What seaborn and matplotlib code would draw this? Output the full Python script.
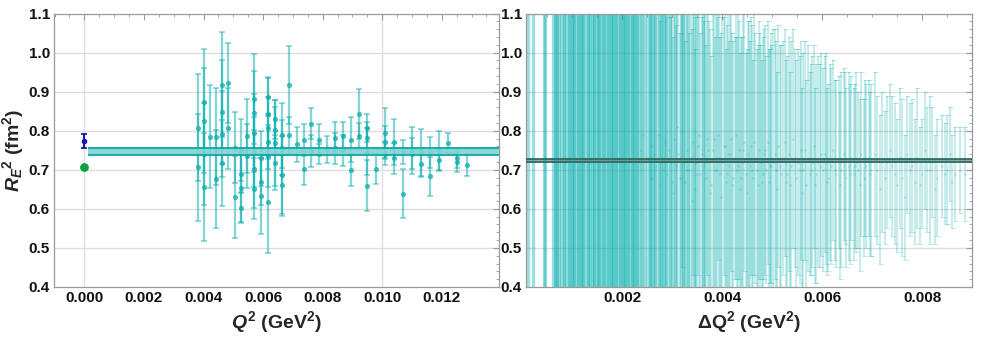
import matplotlib
matplotlib.use("Agg")
import matplotlib.pyplot as plt
from matplotlib.ticker import MultipleLocator, FormatStrFormatter
import numpy as np
import pandas as pd
import seaborn as sns

# --- data: left panel, R_E^2 vs Q^2 ---
q2 = [0.00383, 0.00383,
      0.00401, 0.00401, 0.00401, 0.00401,
      0.00422,
      0.00442, 0.00442,
      0.00462, 0.00462, 0.00462, 0.00462,
      0.00482, 0.00482,
      0.00504, 0.00504,
      0.00525, 0.00525, 0.00525, 0.00525,
      0.00546, 0.00546,
      0.00569, 0.00569, 0.00569, 0.00569, 0.00569, 0.00569,
      0.00592, 0.00592, 0.00592,
      0.00616, 0.00616, 0.00616, 0.00616, 0.00616, 0.00616,
      0.00640, 0.00640, 0.00640, 0.00640,
      0.00664, 0.00664, 0.00664, 0.00664,
      0.00688, 0.00688,
      0.00713,
      0.00736, 0.00736,
      0.00762, 0.00762,
      0.00788, 0.00788,
      0.00814,
      0.00840, 0.00840,
      0.00867, 0.00867,
      0.00894, 0.00894,
      0.00922, 0.00922,
      0.00950, 0.00950, 0.00950, 0.00950,
      0.00979,
      0.01008, 0.01008, 0.01008,
      0.01039, 0.01039,
      0.01069, 0.01069,
      0.01100, 0.01100,
      0.01129, 0.01129,
      0.01159, 0.01159,
      0.01190, 0.01190,
      0.01221,
      0.01252, 0.01252,
      0.01284]
re2 = [0.808, 0.706,
       0.874, 0.826, 0.740, 0.656,
       0.785,
       0.785, 0.676,
       0.918, 0.847, 0.791, 0.718,
       0.922, 0.806,
       0.757, 0.631,
       0.750, 0.690, 0.654, 0.603,
       0.786, 0.735,
       0.881, 0.846, 0.794, 0.746, 0.703, 0.652,
       0.729, 0.669, 0.633,
       0.887, 0.844, 0.807, 0.772, 0.735, 0.618,
       0.829, 0.801, 0.769, 0.718,
       0.788, 0.757, 0.686, 0.660,
       0.917, 0.788,
       0.765,
       0.776, 0.703,
       0.818, 0.748,
       0.777, 0.741,
       0.752,
       0.782, 0.755,
       0.786, 0.750,
       0.777, 0.699,
       0.844, 0.786,
       0.807, 0.782, 0.746, 0.659,
       0.703,
       0.793, 0.771, 0.741,
       0.771, 0.729,
       0.746, 0.639,
       0.750, 0.741,
       0.745, 0.716,
       0.745, 0.684,
       0.748, 0.724,
       0.769,
       0.729, 0.720,
       0.712]
re2_err = [0.137, 0.137,
           0.135, 0.134, 0.130, 0.137,
           0.131,
           0.125, 0.125,
           0.135, 0.133, 0.110, 0.110,
           0.103, 0.103,
           0.090, 0.105,
           0.079, 0.050, 0.088, 0.040,
           0.094, 0.081,
           0.115, 0.106, 0.100, 0.090, 0.100, 0.077,
           0.070, 0.060, 0.098,
           0.050, 0.090, 0.080, 0.070, 0.080, 0.130,
           0.050, 0.060, 0.110, 0.070,
           0.083, 0.070, 0.100, 0.078,
           0.099, 0.047,
           0.044,
           0.041, 0.043,
           0.040, 0.040,
           0.040, 0.025,
           0.035,
           0.040, 0.040,
           0.037, 0.040,
           0.058, 0.040,
           0.064, 0.035,
           0.035, 0.040, 0.060, 0.065,
           0.040,
           0.065, 0.040, 0.030,
           0.060, 0.040,
           0.030, 0.062,
           0.060, 0.040,
           0.060, 0.035,
           0.040, 0.050,
           0.050, 0.025,
           0.025,
           0.025, 0.025,
           0.029]

fit_left = (0.737, 0.756)
ref_blue = (0.773, 0.0185)
ref_green = 0.708

# --- data: right panel, R_E^2 vs Delta Q^2 (dq values in 1e-3 GeV^2) ---
dq2 = [0.12, 0.21, 0.44, 0.46, 0.62, 0.65, 0.68, 0.70, 0.73, 0.78,
       0.83, 0.84, 0.89, 0.93, 0.95, 0.99, 1.02, 1.04, 1.08, 1.11,
       1.13, 1.17, 1.20, 1.22, 1.26, 1.31, 1.32, 1.35, 1.40, 1.43,
       1.44, 1.49, 1.52, 1.53, 1.58, 1.61, 1.64, 1.67, 1.71, 1.73,
       1.77, 1.80, 1.82, 1.86, 1.88, 1.91, 1.95, 1.97, 2.01, 2.03,
       2.06, 2.10, 2.12, 2.15, 2.19, 2.21, 2.24, 2.28, 2.30, 2.33,
       2.37, 2.40, 2.42, 2.46, 2.49,
       2.53, 2.57, 2.60, 2.64, 2.68, 2.71, 2.75, 2.79, 2.82, 2.86,
       2.90, 2.93, 2.97, 3.01, 3.04, 3.08, 3.12, 3.15, 3.19, 3.23,
       3.26, 3.30, 3.34, 3.37, 3.41, 3.45, 3.48, 3.52, 3.56, 3.59,
       3.63, 3.67, 3.70, 3.74, 3.78, 3.81, 3.85, 3.89, 3.92, 3.96,
       4.00, 4.03, 4.07, 4.11, 4.14, 4.18, 4.22, 4.25, 4.29, 4.33,
       4.36, 4.40, 4.44, 4.47, 4.51, 4.55, 4.58, 4.62, 4.66, 4.69,
       4.73, 4.77, 4.80, 4.84, 4.88, 4.91, 4.95, 4.98,
       5.02, 5.08, 5.12, 5.18, 5.22, 5.28, 5.33, 5.38, 5.42, 5.48,
       5.52, 5.58, 5.62, 5.68, 5.72, 5.78, 5.83, 5.88, 5.92, 5.97,
       6.02, 6.07, 6.12, 6.18, 6.22, 6.28, 6.33, 6.38, 6.43, 6.48,
       6.53, 6.58, 6.63, 6.68, 6.72, 6.78, 6.83, 6.88, 6.93, 6.98,
       7.05, 7.10, 7.20, 7.25, 7.35, 7.40, 7.50, 7.55, 7.60, 7.70,
       7.75, 7.85, 7.90, 8.00, 8.05, 8.15, 8.20, 8.30, 8.40, 8.50,
       8.55, 8.65, 8.75, 8.85]
re2_dq = [0.70, 0.75, 0.72, 0.68, 0.77, 0.71, 0.66, 0.74, 0.79, 0.69,
          0.73, 0.64, 0.76, 0.71, 0.80, 0.67, 0.72, 0.75, 0.62, 0.78,
          0.70, 0.74, 0.68, 0.81, 0.72, 0.65, 0.76, 0.70, 0.73, 0.79,
          0.66, 0.71, 0.75, 0.69, 0.82, 0.72, 0.67, 0.74, 0.70, 0.77,
          0.63, 0.73, 0.71, 0.78, 0.68, 0.75, 0.72, 0.66, 0.80, 0.70,
          0.74, 0.69, 0.76, 0.71, 0.65, 0.73, 0.78, 0.70, 0.72, 0.67,
          0.75, 0.71, 0.79, 0.68, 0.73,
          0.70, 0.76, 0.68, 0.74, 0.71, 0.79, 0.66, 0.73, 0.70, 0.77,
          0.69, 0.75, 0.72, 0.64, 0.78, 0.71, 0.74, 0.68, 0.80, 0.72,
          0.67, 0.75, 0.70, 0.73, 0.77, 0.65, 0.72, 0.76, 0.69, 0.74,
          0.71, 0.68, 0.78, 0.72, 0.66, 0.75, 0.70, 0.73, 0.79, 0.69,
          0.72, 0.76, 0.67, 0.74, 0.71, 0.78, 0.68, 0.73, 0.70, 0.75,
          0.65, 0.72, 0.77, 0.69, 0.74, 0.71, 0.76, 0.68, 0.73, 0.70,
          0.75, 0.72, 0.67, 0.74, 0.70, 0.77, 0.71, 0.73,
          0.72, 0.70, 0.76, 0.69, 0.73, 0.67, 0.74, 0.71, 0.78, 0.68,
          0.72, 0.75, 0.70, 0.66, 0.73, 0.70, 0.76, 0.69, 0.72, 0.74,
          0.70, 0.73, 0.68, 0.71, 0.75, 0.69, 0.72, 0.70, 0.74, 0.68,
          0.71, 0.73, 0.69, 0.72, 0.70, 0.74, 0.68, 0.71, 0.73, 0.70,
          0.74, 0.70, 0.72, 0.68, 0.75, 0.71, 0.66, 0.73, 0.68, 0.74,
          0.70, 0.67, 0.73, 0.69, 0.75, 0.70, 0.72, 0.68, 0.71, 0.70,
          0.74, 0.69, 0.70, 0.69]
re2_dq_err = [1.60, 1.20, 2.10, 1.90, 1.40, 1.10, 1.30, 0.95, 1.05, 0.90,
              0.88, 0.92, 0.80, 0.85, 0.78, 0.82, 0.75, 0.79, 0.72, 0.70,
              0.74, 0.68, 0.71, 0.66, 0.69, 0.64, 0.67, 0.62, 0.65, 0.60,
              0.63, 0.61, 0.58, 0.62, 0.57, 0.60, 0.56, 0.59, 0.55, 0.58,
              0.54, 0.57, 0.53, 0.56, 0.52, 0.55, 0.51, 0.54, 0.50, 0.53,
              0.49, 0.52, 0.48, 0.51, 0.47, 0.50, 0.46, 0.49, 0.45, 0.48,
              0.44, 0.47, 0.43, 0.46, 0.44,
              0.45, 0.42, 0.44, 0.41, 0.43, 0.40, 0.42, 0.39, 0.41, 0.38,
              0.40, 0.39, 0.37, 0.40, 0.38, 0.36, 0.39, 0.37, 0.35, 0.38,
              0.36, 0.37, 0.35, 0.38, 0.34, 0.36, 0.37, 0.33, 0.36, 0.35,
              0.37, 0.34, 0.35, 0.36, 0.33, 0.35, 0.34, 0.36, 0.32, 0.35,
              0.37, 0.33, 0.34, 0.36, 0.32, 0.34, 0.35, 0.31, 0.34, 0.33,
              0.35, 0.32, 0.33, 0.31, 0.34, 0.32, 0.33, 0.30, 0.32, 0.31,
              0.33, 0.30, 0.31, 0.32, 0.29, 0.31, 0.30, 0.32,
              0.34, 0.33, 0.31, 0.33, 0.30, 0.31, 0.30, 0.32, 0.28, 0.30,
              0.29, 0.28, 0.30, 0.27, 0.29, 0.27, 0.26, 0.28, 0.27, 0.26,
              0.26, 0.27, 0.24, 0.25, 0.23, 0.24, 0.22, 0.25, 0.22, 0.23,
              0.24, 0.21, 0.22, 0.23, 0.20, 0.21, 0.20, 0.21, 0.20, 0.22,
              0.21, 0.19, 0.18, 0.17, 0.17, 0.18, 0.17, 0.18, 0.20, 0.15,
              0.17, 0.16, 0.18, 0.14, 0.15, 0.19, 0.14, 0.15, 0.13, 0.14,
              0.12, 0.12, 0.11, 0.12]

# second set of pairs lying at nearly the same Delta Q^2 (1e-3 GeV^2)
dq2_b = [2.55, 2.62, 2.66, 2.73, 2.77, 2.84, 2.88, 2.95, 2.99, 3.06,
         3.10, 3.17, 3.21, 3.28, 3.32, 3.39, 3.43, 3.50, 3.54, 3.61,
         3.65, 3.72, 3.76, 3.83, 3.87, 3.94, 3.98, 4.05, 4.09, 4.16,
         4.20, 4.27, 4.31, 4.38, 4.42, 4.49, 4.53, 4.60, 4.64, 4.71,
         4.75, 4.82, 4.86, 4.93, 4.97, 5.05, 5.10, 5.15, 5.25, 5.30,
         5.35, 5.45, 5.55, 5.60, 5.65, 5.75, 5.80, 5.85, 5.95, 6.05,
         6.10, 6.15, 6.25, 6.35, 6.45, 6.55, 6.65, 6.75, 6.85, 6.95,
         7.15, 7.30, 7.45, 7.65, 7.80, 7.95, 8.10, 8.25, 8.45, 8.60]
re2_dq_b = [0.66, 0.78, 0.70, 0.74, 0.63, 0.80, 0.69, 0.75, 0.67, 0.72,
            0.81, 0.65, 0.73, 0.70, 0.77, 0.62, 0.74, 0.69, 0.79, 0.66,
            0.72, 0.75, 0.64, 0.78, 0.70, 0.73, 0.63, 0.76, 0.69, 0.74,
            0.66, 0.79, 0.71, 0.68, 0.75, 0.64, 0.73, 0.70, 0.77, 0.66,
            0.72, 0.69, 0.75, 0.67, 0.71, 0.74, 0.65, 0.71, 0.77, 0.69,
            0.66, 0.73, 0.70, 0.64, 0.75, 0.69, 0.72, 0.66, 0.71, 0.74,
            0.67, 0.72, 0.70, 0.66, 0.73, 0.69, 0.71, 0.66, 0.73, 0.69,
            0.65, 0.72, 0.69, 0.63, 0.71, 0.66, 0.70, 0.65, 0.69, 0.67]
re2_dq_err_b = [0.50, 0.48, 0.52, 0.46, 0.49, 0.47, 0.45, 0.50, 0.44, 0.47,
                0.43, 0.46, 0.48, 0.42, 0.45, 0.44, 0.47, 0.41, 0.43, 0.45,
                0.40, 0.44, 0.42, 0.41, 0.43, 0.39, 0.42, 0.40, 0.38, 0.41,
                0.39, 0.37, 0.40, 0.36, 0.38, 0.37, 0.35, 0.37, 0.34, 0.36,
                0.33, 0.35, 0.32, 0.34, 0.31, 0.32, 0.30, 0.31, 0.29, 0.30,
                0.29, 0.28, 0.29, 0.27, 0.28, 0.26, 0.27, 0.25, 0.26, 0.25,
                0.24, 0.25, 0.23, 0.24, 0.22, 0.23, 0.21, 0.22, 0.20, 0.21,
                0.19, 0.17, 0.18, 0.16, 0.17, 0.15, 0.16, 0.14, 0.13, 0.12]

fit_right = (0.720, 0.728)

left = pd.DataFrame({"q2": q2, "re2": re2, "err": re2_err})
right = pd.DataFrame({"dq2": np.array(dq2 + dq2_b) * 1e-3,
                      "re2": re2_dq + re2_dq_b,
                      "err": re2_dq_err + re2_dq_err_b})

# --- style ---
sns.set_theme(style="white")
plt.rcParams["font.family"] = ["Liberation Sans", "DejaVu Sans"]
plt.rcParams["font.weight"] = "bold"
plt.rcParams["mathtext.fontset"] = "custom"
plt.rcParams["mathtext.rm"] = "Liberation Sans:bold"
plt.rcParams["mathtext.it"] = "Liberation Sans:italic:bold"
plt.rcParams["mathtext.bf"] = "Liberation Sans:bold"

TEAL = "#0aafaf"
FRAME = "#9a9a9a"
GRID = "#dedede"

fig = plt.figure(figsize=(9.81, 3.37), dpi=100)
ax1 = fig.add_axes([54 / 981, 50 / 337, 445 / 981, 273.5 / 337])
ax2 = fig.add_axes([526 / 981, 50 / 337, 446 / 981, 273.5 / 337])


def style_axes(ax):
    for s in ax.spines.values():
        s.set_color(FRAME)
        s.set_linewidth(0.9)
    ax.set_ylim(0.4, 1.1)
    ax.yaxis.set_major_locator(MultipleLocator(0.1))
    ax.yaxis.set_minor_locator(MultipleLocator(0.02))
    ax.yaxis.set_major_formatter(FormatStrFormatter("%.1f"))
    ax.xaxis.set_major_locator(MultipleLocator(0.002))
    ax.xaxis.set_minor_locator(MultipleLocator(0.0005))
    ax.tick_params(which="both", direction="in", top=True, right=True,
                   color=FRAME, labelsize=11, pad=3, labelcolor="#111111")
    ax.tick_params(which="major", length=4, width=0.8)
    ax.tick_params(which="minor", length=2, width=0.6)
    for y in np.arange(0.5, 1.05, 0.1):
        ax.axhline(y, color=GRID, lw=1, zorder=0)


# --- left panel ---
style_axes(ax1)
ax1.set_xlim(-0.00102, 0.01392)
ax1.xaxis.set_major_formatter(FormatStrFormatter("%.3f"))
for xv in (0.0, 0.010):
    ax1.axvline(xv, color=GRID, lw=1, zorder=0)

ax1.errorbar(left["q2"], left["re2"], yerr=left["err"], fmt="none",
             ecolor=TEAL, alpha=0.5, elinewidth=1.6, capsize=2.2, capthick=1.2, zorder=2)
sns.scatterplot(data=left, x="q2", y="re2", ax=ax1, color=TEAL, alpha=0.75,
                s=14, linewidth=0, zorder=3, legend=False)

ax1.fill_between([0.00013, 0.01392], fit_left[0], fit_left[1],
                 color="#7fd3d0", alpha=0.9, lw=0, zorder=4)
ax1.hlines(fit_left, 0.00013, 0.01392, color="#10a5a5", lw=1.3, zorder=5)

ax1.errorbar([0.0], [ref_blue[0]], yerr=[ref_blue[1]], fmt="o", color="#1a1aa6",
             ms=3, elinewidth=1.5, capsize=2.5, capthick=1.3, zorder=6)
sns.scatterplot(x=[0.0], y=[ref_green], ax=ax1, color="#12a040", s=40,
                linewidth=0, zorder=6, legend=False)

ax1.set_xlabel(r"$Q^2$ (GeV$^2$)", fontsize=14, fontweight="bold", labelpad=3)
ax1.set_ylabel(r"$R_E{}^2$ (fm$^2$)", fontsize=14, fontweight="bold")
ax1.yaxis.set_label_coords(-0.064, 0.5)

# --- right panel ---
style_axes(ax2)
ax2.set_xlim(0.00008, 0.00900)
ax2.xaxis.set_major_formatter(FormatStrFormatter("%.3f"))

big = right[right["err"] > 0.44]
small = right[right["err"] <= 0.44]
ax2.errorbar(big["dq2"], big["re2"], yerr=big["err"], fmt="none",
             ecolor=TEAL, alpha=0.4, elinewidth=2.4, capsize=0, zorder=2)
ax2.errorbar(small["dq2"], small["re2"], yerr=small["err"], fmt="none",
             ecolor=TEAL, alpha=0.3, elinewidth=1.1, capsize=1.8, capthick=0.7, zorder=2)
sns.scatterplot(data=small, x="dq2", y="re2", ax=ax2, color=TEAL, alpha=0.25,
                s=3, linewidth=0, zorder=3, legend=False)

ax2.fill_between([0.00008, 0.00900], fit_right[0], fit_right[1],
                 color="#5f8f8a", alpha=0.7, lw=0, zorder=4)
ax2.hlines(fit_right, 0.00008, 0.00900, color="#2f6a64", lw=1.3, zorder=5)

ax2.set_xlabel(r"ΔQ$^2$ (GeV$^2$)", fontsize=14, fontweight="bold", labelpad=3)
ax2.set_ylabel("")

fig.savefig("out.png", dpi=100)
